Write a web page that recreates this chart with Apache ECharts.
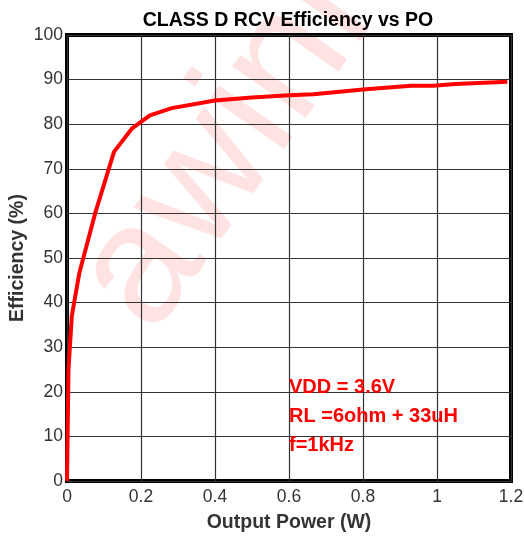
<!DOCTYPE html>
<html>
<head>
<meta charset="utf-8">
<script src="https://cdn.jsdelivr.net/npm/echarts@6/dist/echarts.min.js"></script>
<style>
  html, body { margin: 0; padding: 0; background: #fff; }
  #chart { width: 524px; height: 536px; }
</style>
</head>
<body>
<div id="chart"></div>
<script>
// 输出功率 (W) 与效率 (%)
var powerW = [0, 0.004, 0.013, 0.033, 0.076, 0.127, 0.175, 0.224, 0.283, 0.4, 0.5, 0.6, 0.666, 0.8, 0.93, 0.99, 1.05, 1.19];
var efficiency = [0, 25, 37, 46.5, 60, 73.8, 79, 82, 83.6, 85.3, 86, 86.5, 86.7, 87.8, 88.6, 88.6, 89, 89.5];
var notes = ['VDD = 3.6V', 'RL =6ohm + 33uH', 'f=1kHz'];

var chart = echarts.init(document.getElementById('chart'));
var points = powerW.map(function (p, i) { return [p, efficiency[i]]; });

var font = 'Arial, "Liberation Sans", sans-serif';

chart.setOption({
  animation: false,
  title: {
    text: 'CLASS D RCV Efficiency vs PO',
    left: 283, top: 6, textAlign: 'center',
    textStyle: { fontFamily: font, fontWeight: 'bold', fontSize: 19.5, color: '#000' }
  },
  grid: {
    left: 67, right: 13, top: 35, bottom: 55,
    outerBoundsMode: 'none', containLabel: false,
    show: true, borderColor: '#000', borderWidth: 4
  },
  xAxis: {
    type: 'value', min: 0, max: 1.2, interval: 0.2,
    name: 'Output Power (W)', nameLocation: 'middle', nameGap: 32, nameMoveOverlap: false,
    nameTextStyle: { fontFamily: font, fontWeight: 'bold', fontSize: 19.5, color: '#333' },
    axisLine: { show: false },
    axisTick: { show: false },
    axisLabel: { fontFamily: font, fontSize: 17.5, color: '#333', margin: 7 },
    splitLine: { lineStyle: { color: '#333', width: 1.2 } }
  },
  yAxis: {
    type: 'value', min: 0, max: 100, interval: 10,
    name: 'Efficiency (%)', nameLocation: 'middle', nameGap: 39, nameMoveOverlap: false,
    nameTextStyle: { fontFamily: font, fontWeight: 'bold', fontSize: 19.5, color: '#333' },
    axisLine: { show: false },
    axisTick: { show: false },
    axisLabel: { fontFamily: font, fontSize: 17.5, color: '#333', margin: 4 },
    splitLine: { lineStyle: { color: '#333', width: 1.2 } }
  },
  graphic: [
    {
      type: 'text', z: -10, x: 250, y: 116, rotation: 0.96,
      style: {
        text: 'awinic', fill: 'rgba(255,110,110,0.2)',
        font: '170px Arial, "Liberation Sans", sans-serif',
        textAlign: 'center', textVerticalAlign: 'middle'
      }
    }
  ].concat(notes.map(function (t, i) {
    return {
      type: 'text', z: 100, x: 289, y: 387 + i * 29,
      style: {
        text: t, fill: '#ff0000',
        font: 'bold 20px Arial, "Liberation Sans", sans-serif',
        textVerticalAlign: 'middle'
      }
    };
  })),
  series: [{
    type: 'line',
    data: points,
    showSymbol: false,
    lineStyle: { color: '#ff0000', width: 4 },
    z: 5
  }]
});
</script>
</body>
</html>
